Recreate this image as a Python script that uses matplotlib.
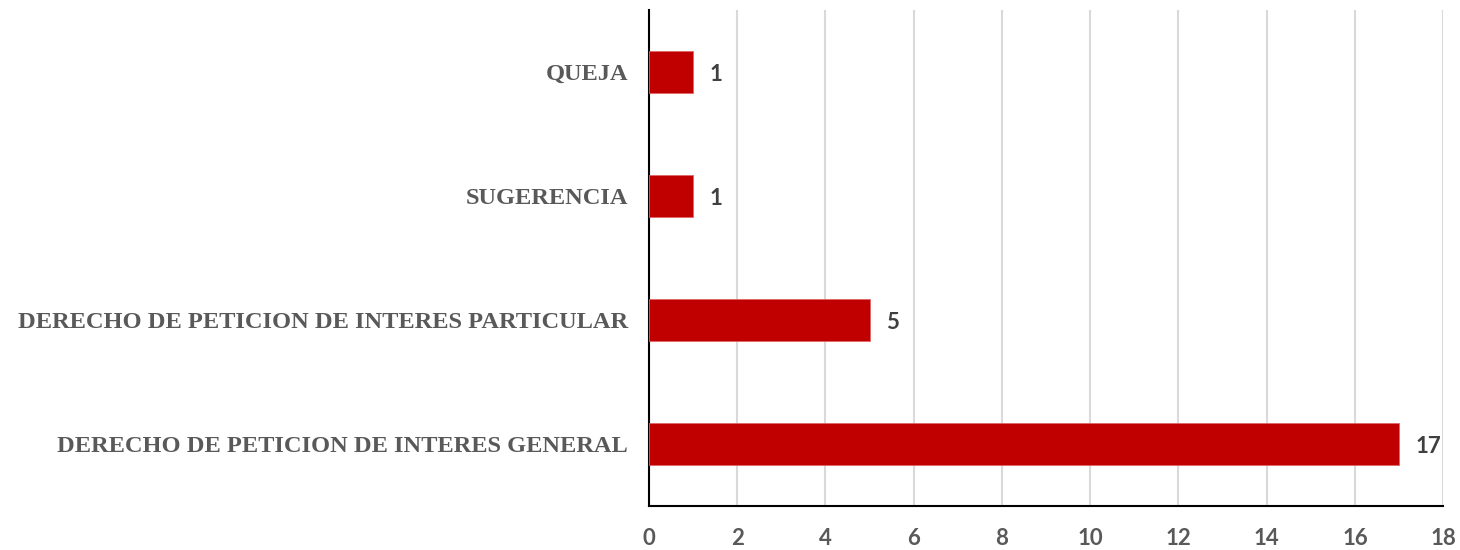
import matplotlib.pyplot as plt

categorias = ['DERECHO DE PETICION DE INTERES GENERAL',
              'DERECHO DE PETICION DE INTERES PARTICULAR',
              'SUGERENCIA',
              'QUEJA']
valores = [17, 5, 1, 1]
ticks_x = [0, 2, 4, 6, 8, 10, 12, 14, 16, 18]

fig = plt.figure(figsize=(14.6, 5.5), dpi=100)
ax = fig.add_axes([0.4445, 0.08, 0.544, 0.902])

barras = ax.barh(categorias, valores, height=0.34, color='#C00000',
                 edgecolor='#E06666', linewidth=0.6, zorder=3)

# etiquetas de valor
for b, v in zip(barras, valores):
    ax.annotate(str(v), (b.get_width(), b.get_y() + b.get_height() / 2),
                xytext=(16, -3), textcoords='offset pixels',
                ha='left', va='center', fontsize=16, fontweight='bold',
                color='#404040', family='Lato')

ax.set_xlim(0, 18)
ax.set_ylim(-0.5, 3.5)
ax.set_xticks(ticks_x)
ax.xaxis.grid(True, color='#D9D9D9', linewidth=1.5, zorder=0)
ax.set_axisbelow(True)

for s in ['top', 'right']:
    ax.spines[s].set_visible(False)
ax.spines['left'].set_color('black')
ax.spines['bottom'].set_color('black')
ax.spines['left'].set_linewidth(1.5)
ax.spines['bottom'].set_linewidth(1.5)

ax.tick_params(axis='x', length=0, pad=16)
ax.tick_params(axis='y', length=0, pad=15)
for t in ax.get_xticklabels():
    t.set_fontsize(16)
    t.set_fontweight('bold')
    t.set_color('#595959')
    t.set_family('Lato')
for t in ax.get_yticklabels():
    t.set_fontsize(17.6)
    t.set_fontweight('bold')
    t.set_color('#595959')
    t.set_family('Liberation Serif')

fig.savefig('out.png', dpi=100)
